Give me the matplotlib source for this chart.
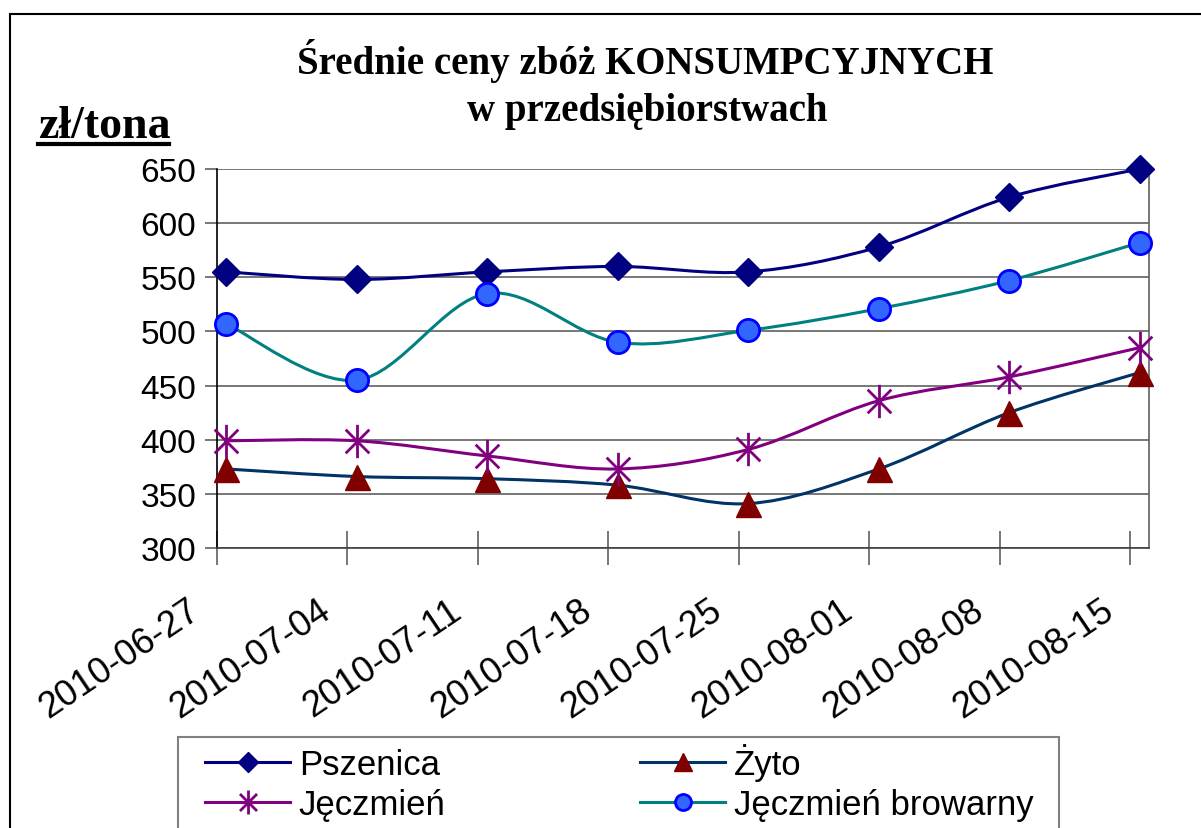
import numpy as np
import matplotlib.pyplot as plt
import matplotlib.transforms as mtransforms
from matplotlib.path import Path
from matplotlib.patches import PathPatch, Rectangle
from matplotlib.lines import Line2D

# daty notowań i ceny (zł/tona)
daty = ["2010-06-27", "2010-07-04", "2010-07-11", "2010-07-18",
        "2010-07-25", "2010-08-01", "2010-08-08", "2010-08-15"]
dni = [0, 7, 14, 21, 28, 35, 42, 49]

pszenica = [555, 548, 555, 560, 555, 578, 624, 650]
zyto = [373, 366, 364, 358, 341, 373, 425, 462]
jeczmien = [399, 399, 385, 373, 391, 436, 458, 485]
jeczmien_browarny = [507, 455, 535, 490, 501, 521, 547, 582]

plt.rcParams['font.family'] = ['Liberation Sans', 'DejaVu Sans']


def smooth_path(x, y):
    # krzywa wygładzona jak w Excelu (Catmull-Rom -> Bezier)
    p = np.column_stack([x, y]).astype(float)
    pts = np.vstack([p[0], p, p[-1]])
    verts = [p[0]]
    codes = [Path.MOVETO]
    for i in range(1, len(pts) - 2):
        c1 = pts[i] + (pts[i + 1] - pts[i - 1]) / 6
        c2 = pts[i + 1] - (pts[i + 2] - pts[i]) / 6
        verts += [c1, c2, pts[i + 1]]
        codes += [Path.CURVE4] * 3
    return Path(verts, codes)


# gwiazdka Excela: X + pionowa kreska
star = Path([(0, -1), (0, 1), (-0.71, -0.71), (0.71, 0.71), (-0.71, 0.71), (0.71, -0.71)],
            [Path.MOVETO, Path.LINETO] * 3)

fig = plt.figure(figsize=(12.01, 8.29), dpi=100)
ax = fig.add_axes([217 / 1201, 1 - 549 / 829, 932 / 1201, 379 / 829])

serie = [
    ("Pszenica", pszenica, "#000080", dict(marker="D", ms=14, mfc="#000080", mec="#000080")),
    ("Żyto", zyto, "#003366", dict(marker="^", ms=18, mfc="#800000", mec="#800000")),
    ("Jęczmień", jeczmien, "#800080", dict(marker=star, ms=24, mfc="none", mec="#800080", mew=2)),
    ("Jęczmień browarny", jeczmien_browarny, "#008080",
     dict(marker="o", ms=16, mfc="#3366FF", mec="#0000FF", mew=2)),
]

handles = {}
for nazwa, y, kolor, m in serie:
    ax.add_patch(PathPatch(smooth_path(dni, y), fc="none", ec=kolor, lw=2.2, zorder=3))
    ax.plot(dni, y, linestyle="none", zorder=4, clip_on=False, **m)
    hm = dict(m)
    hm["ms"] = m["ms"] * 0.72
    handles[nazwa] = Line2D([], [], color=kolor, lw=2.2, label=nazwa, **hm)

ax.set_xlim(-0.5, 49.5)
ax.set_ylim(300, 650)
ax.set_yticks(range(300, 651, 50))
ax.set_xticks([d - 0.5 for d in dni])
ax.set_xticklabels(daty, rotation=34, ha="right", va="top", rotation_mode="anchor")
ax.tick_params(axis="x", direction="inout", length=24, width=1.2, color="#606060",
               labelsize=26, pad=10)
ax.tick_params(axis="y", direction="out", length=9, width=1.2, color="#606060",
               labelsize=24, pad=6)
shift = mtransforms.ScaledTranslation(-30 / 100, -14 / 100, fig.dpi_scale_trans)
for lab in ax.get_xticklabels():
    lab.set_transform(lab.get_transform() + shift)
ax.grid(axis="y", color="#606060", lw=1.2)
ax.set_axisbelow(True)
ax.spines["top"].set_visible(False)
ax.spines["left"].set_color("black")
ax.spines["right"].set_color("#606060")
ax.spines["bottom"].set_color("#404040")
for s in ax.spines.values():
    s.set_linewidth(1.2)

fig.text(645 / 1201, 1 - 61 / 829, "Średnie ceny zbóż KONSUMPCYJNYCH",
         family="Liberation Serif", weight="bold", size=28, ha="center", va="center")
fig.text(647 / 1201, 1 - 111 / 829, "w przedsiębiorstwach",
         family="Liberation Serif", weight="bold", size=28, ha="center", va="center")
fig.text(38 / 1201, 1 - 138 / 829, "zł/tona", family="Liberation Serif",
         weight="bold", size=33, ha="left", va="baseline")
fig.add_artist(Line2D([38 / 1201, 169 / 1201], [1 - 145 / 829, 1 - 145 / 829],
                      color="black", lw=3, transform=fig.transFigure))

# ramka całego wykresu (ucięta z prawej i u dołu)
fig.add_artist(Rectangle((10 / 1201, -0.1), 1.2, 1.1 - 15 / 829, fill=False,
                         ec="black", lw=1.5, transform=fig.transFigure))
# ramka legendy
fig.add_artist(Rectangle((178 / 1201, -0.1), 881 / 1201, 0.1 + 1 - 738 / 829, fill=False,
                         ec="#808080", lw=1.5, transform=fig.transFigure))
kolejnosc = ["Pszenica", "Jęczmień", "Żyto", "Jęczmień browarny"]
fig.legend(handles=[handles[k] for k in kolejnosc], ncol=2, frameon=False, fontsize=25,
           loc="upper left", bbox_to_anchor=(205 / 1201, 1 - 744 / 829),
           handlelength=2.45, handletextpad=0.25, columnspacing=5.6, labelspacing=0.2,
           borderaxespad=0, borderpad=0)

fig.savefig("out.png", dpi=100)
